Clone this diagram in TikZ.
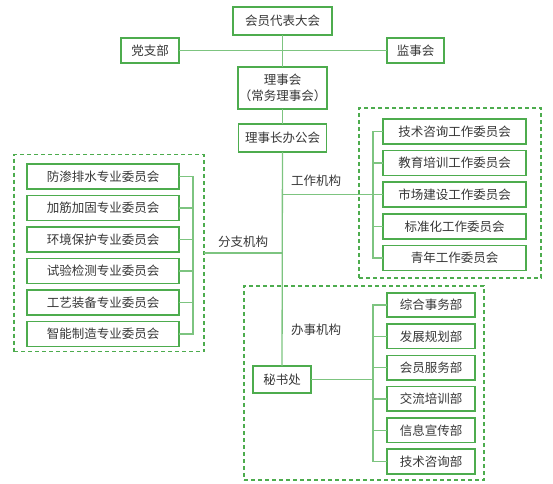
\documentclass[tikz,border=0pt]{standalone}
\usepackage{fontspec}
\setmainfont{Noto Sans CJK SC}
\usetikzlibrary{positioning}
\definecolor{boxgreen}{RGB}{77,172,78}
\definecolor{linegreen}{RGB}{125,196,128}
\definecolor{txtgray}{RGB}{55,55,55}

\begin{document}
\begin{tikzpicture}
[x=1pt,y=-1pt,
 every node/.style={inner sep=0pt,outer sep=0pt,text=txtgray,font=\fontsize{12.5}{16}\selectfont},
 org/.style={draw=boxgreen,line width=1.6pt,fill=white},
 group/.style={draw=boxgreen,line width=1.4pt,dash pattern=on 4pt off 3pt},
 link/.style={draw=linegreen,line width=1.3pt}]
\useasboundingbox (0,0) rectangle (553,483);
% groups
\node[group,minimum width=190pt,minimum height=197pt] (fzg) at (109,253) {};
\node[group,minimum width=182pt,minimum height=170pt] (gzg) at (450,193) {};
\node[group,minimum width=240pt,minimum height=194pt] (bsg) at (364,383) {};
% main line
\node[org,minimum width=99pt,minimum height=28pt] (dbdh) at (282.5,21) {会员代表大会};
\node[org,minimum width=58pt,minimum height=25pt] (dzb)  at (150,50.5)  {党支部};
\node[org,minimum width=57pt,minimum height=25pt] (jsh)  at (415.5,50.5){监事会};
\node[org,minimum width=89pt,minimum height=42pt,align=center] (lsh) at (282.5,88) {理事会\\（常务理事会）};
\node[org,minimum width=88pt,minimum height=28pt] (lszb) [on grid,below=50pt of lsh] {理事长办公会};
\node[org,minimum width=58pt,minimum height=27pt] (msc)  at (282,379.5) {秘书处};
% branch committees
\node[org,minimum width=152pt,minimum height=25pt] (fz1) at (103,176.5) {防渗排水专业委员会};
\foreach \t [count=\i from 2,evaluate=\i as \j using int(\i-1)] in
  {加筋加固专业委员会,环境保护专业委员会,试验检测专业委员会,工艺装备专业委员会,智能制造专业委员会}
  \node[org,minimum width=152pt,minimum height=25pt] (fz\i) [on grid,below=31.5pt of fz\j] {\t};
% working committees
\node[org,minimum width=143pt,minimum height=25pt] (gz1) at (454.5,131.5) {技术咨询工作委员会};
\foreach \t [count=\i from 2,evaluate=\i as \j using int(\i-1)] in
  {教育培训工作委员会,市场建设工作委员会,标准化工作委员会,青年工作委员会}
  \node[org,minimum width=143pt,minimum height=25pt] (gz\i) [on grid,below=31.6pt of gz\j] {\t};
% offices
\node[org,minimum width=88pt,minimum height=24.5pt] (bs1) at (431,305) {综合事务部};
\foreach \t [count=\i from 2,evaluate=\i as \j using int(\i-1)] in
  {发展规划部,会员服务部,交流培训部,信息宣传部,技术咨询部}
  \node[org,minimum width=88pt,minimum height=24.5pt] (bs\i) [on grid,below=31.3pt of bs\j] {\t};
% connectors
\path[link] (dzb.east) -- (jsh.west);
\path[link] (dbdh) -- (lsh);
\path[link] (lsh) -- (lszb);
\path[link] (lszb) -- (msc);
\path[link] (fzg.east) -- (fzg.east -| lszb.south);
\path[link] (gz3.west -| lszb.south) -- (gz3.west);
\coordinate (fzr) at ([xshift=14pt]fz1.east);
\coordinate (gzl) at ([xshift=-10pt]gz1.west);
\coordinate (bsl) at ([xshift=-14pt]bs1.west);
\path[link] (fz1.east) -- (fzr) |- (fz6.east);
\path[link] (gz1.west) -- (gzl) |- (gz5.west);
\path[link] (bs1.west) -- (bsl) |- (bs6.west);
\foreach \i in {2,...,5} \path[link] (fz\i.east) -- (fz\i.east -| fzr);
\foreach \i in {2,...,4} \path[link] (gz\i.west) -- (gz\i.west -| gzl);
\foreach \i in {2,...,5} \path[link] (bs\i.west) -- (bs\i.west -| bsl);
\path[link] (msc.east) -- (msc.east -| bsl);
% labels
\node (fzlab) at (243,242) {分支机构};
\node (gzlab) at (316,181) {工作机构};
\node (bslab) at (316,330) {办事机构};
\end{tikzpicture}
\end{document}
